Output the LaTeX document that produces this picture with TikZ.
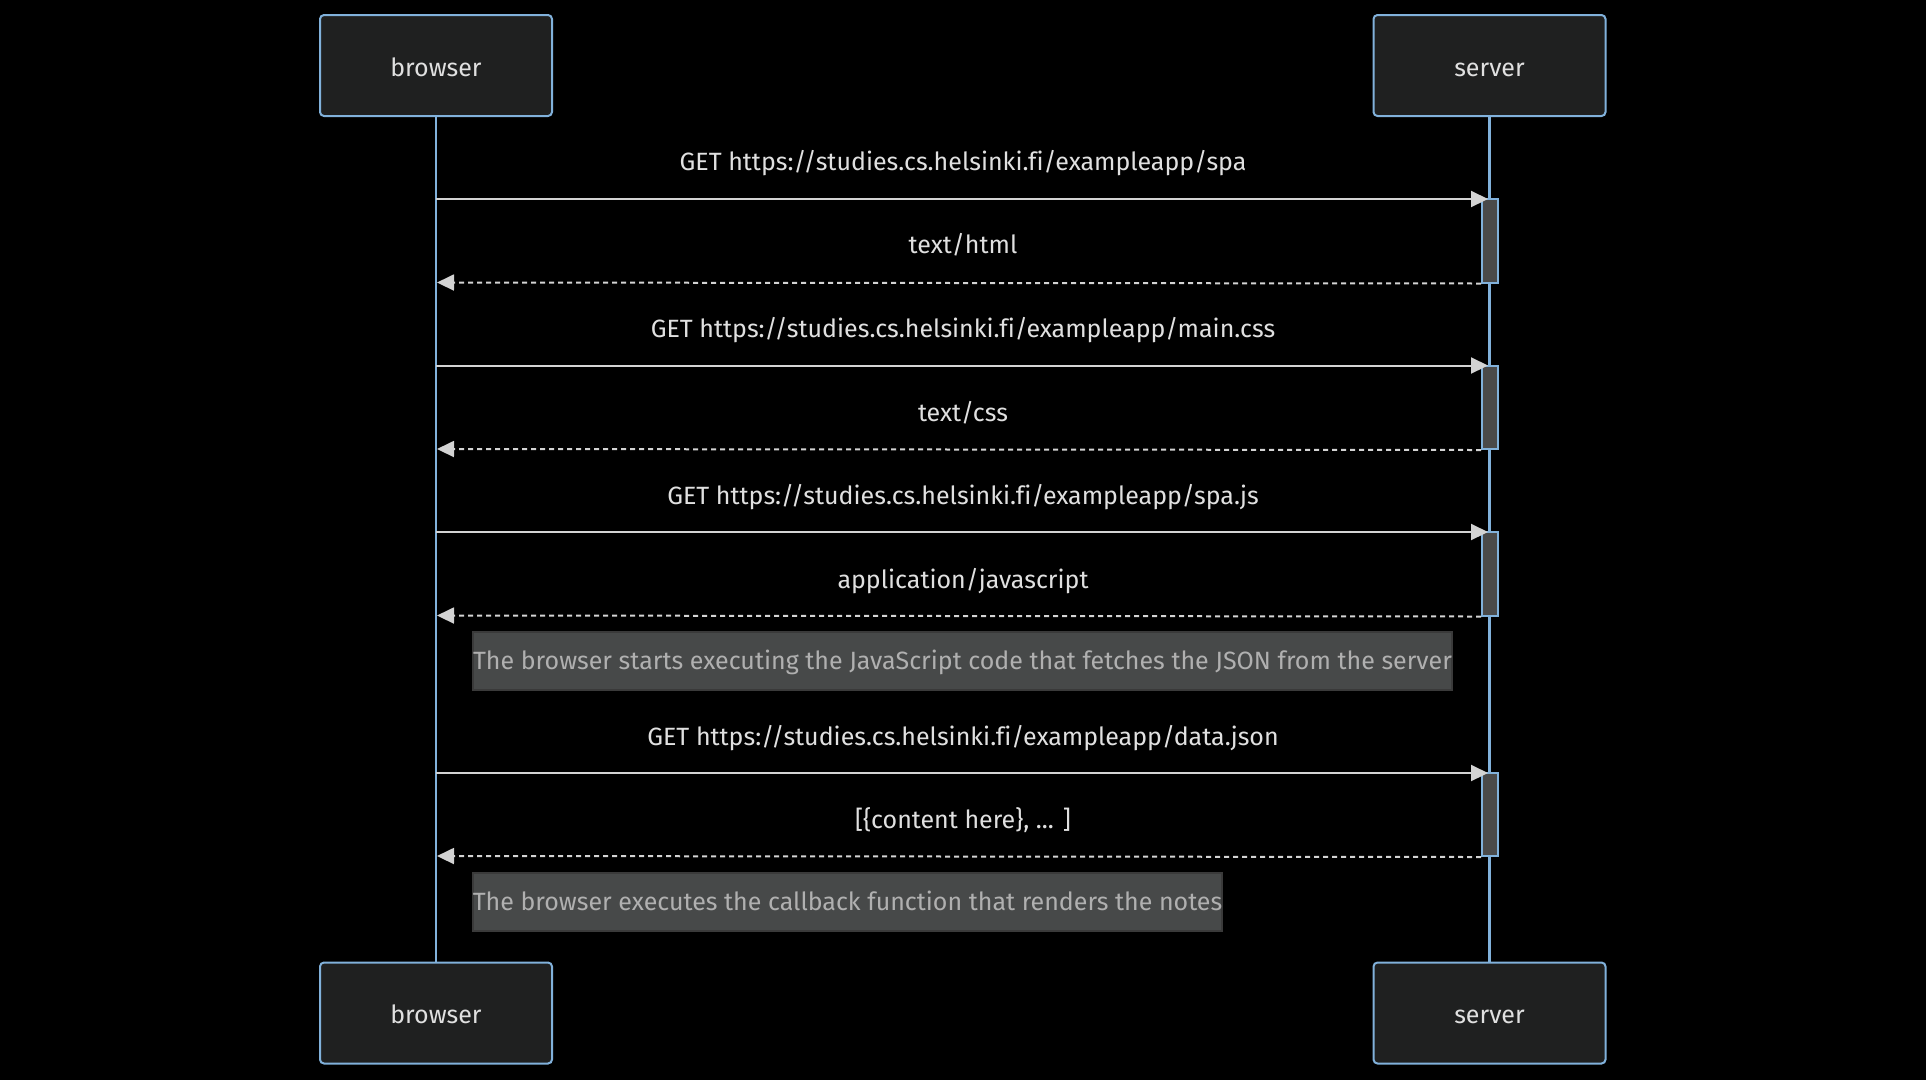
\documentclass[tikz,border=0pt]{standalone}
\usepackage{fontspec}
\setmainfont[Ligatures=NoCommon]{Fira Sans}
\usetikzlibrary{arrows.meta}
\definecolor{actbg}{HTML}{1F2020}
\definecolor{actline}{HTML}{81B1DB}
\definecolor{msgline}{HTML}{D3D3D3}
\definecolor{msgtext}{HTML}{E0E0E0}
\definecolor{notebg}{HTML}{474949}
\definecolor{noteborder}{HTML}{3A3A3A}
\definecolor{notetext}{HTML}{B0B0B0}
\definecolor{actvbg}{HTML}{4A4A4A}
\tikzset{
  txt/.style={font=\fontsize{25}{30}\selectfont, text height=20pt, text depth=3pt},
  actor/.style={txt, text height=23pt, text depth=2pt, draw=actline, line width=2pt,
    fill=actbg, rounded corners=4pt,
    minimum width=232pt, minimum height=101pt, text=msgtext},
  life/.style={draw=actline, line width=2.5pt},
  msg/.style={draw=msgline, line width=2pt, -{Triangle[length=17pt,width=16pt]}},
  ret/.style={msg, dash pattern=on 5pt off 4pt},
  lbl/.style={txt, text=msgtext},
  note/.style={txt, draw=noteborder, line width=2pt, fill=notebg, minimum height=58pt,
    text=notetext, inner sep=0pt},
  actv/.style={draw=actline, line width=2pt, fill=actvbg, minimum width=16pt, inner sep=0pt}
}
\begin{document}
\begin{tikzpicture}[x=1pt,y=-1pt]
\fill[black] (0,0) rectangle (1926,1080);
\useasboundingbox (0,0) rectangle (1926,1080);
\node[actor] (b1) at (436,65.5) {browser};
\node[actor] (s1) at (1489.5,65.5) {server};
\node[actor] (b2) at (436,1013) {browser};
\node[actor] (s2) at (1489.5,1013) {server};
\draw[life] (b1.south) -- (b2.north);
\draw[life] (s1.south) -- (s2.north);
% activations
\node[actv, minimum height=83.5pt] (a1) at (1490,240.75) {};
\node[actv, minimum height=83.5pt] (a2) at (1490,407.25) {};
\node[actv, minimum height=83.5pt] (a3) at (1490,573.75) {};
\node[actv, minimum height=83pt] (a4) at (1490,814.5) {};
% browser lifeline points
\coordinate (bp1) at (436,199);
\coordinate (bp2) at (437,282.5);
\coordinate (bp3) at (436,365.5);
\coordinate (bp4) at (437,449);
\coordinate (bp5) at (436,532);
\coordinate (bp6) at (437,615.5);
\coordinate (bp7) at (436,773);
\coordinate (bp8) at (437,856);
% server points
\coordinate (sp1) at (1488,199);
\coordinate (sp3) at (1488,365.5);
\coordinate (sp5) at (1488,532);
\coordinate (sp7) at (1488,773);
\draw[msg] (bp1) -- (sp1);
\draw[ret] (a1.south west) -- (bp2);
\draw[msg] (bp3) -- (sp3);
\draw[ret] (a2.south west) -- (bp4);
\draw[msg] (bp5) -- (sp5);
\draw[ret] (a3.south west) -- (bp6);
\draw[msg] (bp7) -- (sp7);
\draw[ret] (a4.south west) -- (bp8);
% labels
\node[lbl] (l1) at (963,162) {GET https://studies.cs.helsinki.fi/exampleapp/spa};
\node[lbl] (l2) at (963,245) {text/html};
\node[lbl] (l3) at (963,329) {GET https://studies.cs.helsinki.fi/exampleapp/main.css};
\node[lbl] (l4) at (963,412.5) {text/css};
\node[lbl] (l5) at (963,496) {GET https://studies.cs.helsinki.fi/exampleapp/spa.js};
\node[lbl] (l6) at (963,579.5) {application/javascript};
\node[lbl] (l7) at (963,737) {GET https://studies.cs.helsinki.fi/exampleapp/data.json};
\node[lbl] (l8) at (963,820) {[\{content here\}, ... ]};
% notes
\node[note, minimum width=977pt] (n1) at (962.5,661) {The browser starts executing the JavaScript code that fetches the JSON from the server};
\node[note, minimum width=747pt] (n2) at (847.5,902) {The browser executes the callback function that renders the notes};
\end{tikzpicture}
\end{document}
